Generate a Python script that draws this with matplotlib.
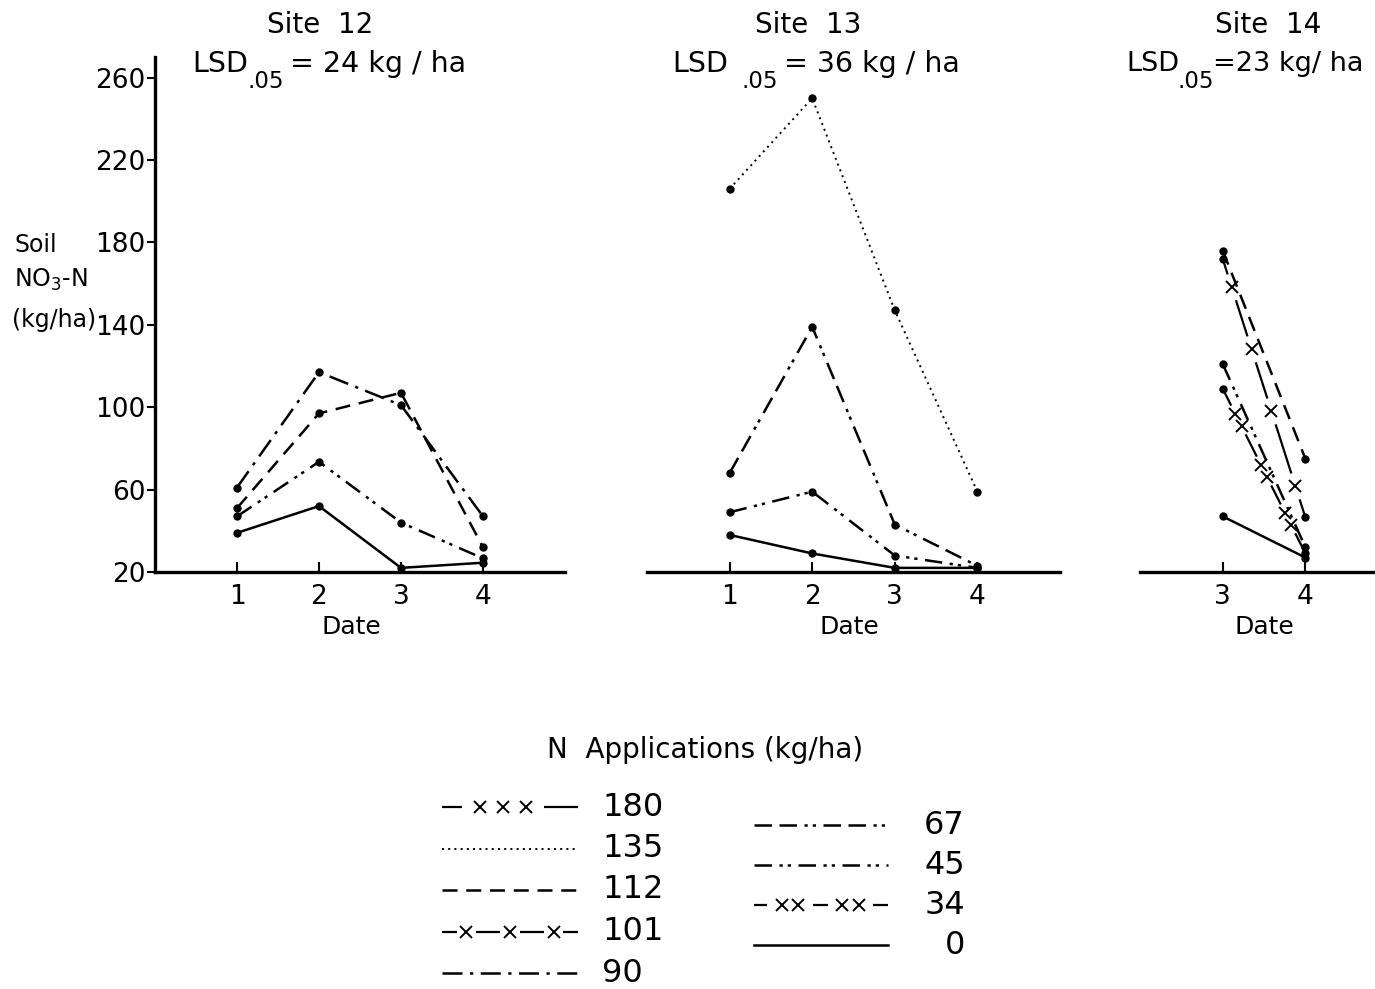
import numpy as np
import matplotlib as mpl
mpl.use('Agg')
import matplotlib.pyplot as plt
from matplotlib.transforms import blended_transform_factory

mpl.rc('font', family='DejaVu Sans', size=19)
mpl.rc('mathtext', default='regular')

# values (soil NO3-N, kg/ha)
dates_all = [1, 2, 3, 4]
dates_late = [3, 4]

site12_rates = ['112', '90', '45', '0']
site12_no3 = [[51, 97, 107, 32],
              [61, 117, 101, 47],
              [47, 73.5, 44, 26.6],
              [39, 52, 22, 24.5]]

site13_rates = ['135', '67', '45', '0']
site13_no3 = [[206, 250, 147, 59],
              [68, 139, 43, 23],
              [49, 59, 28, 22],
              [38, 29, 22, 22]]

site14_rates = ['112', '101', '45', '34', '0']
site14_no3 = [[176, 75],
              [172, 46.5],
              [121, 32],
              [109, 29],
              [47, 27]]

yticks = [20, 60, 100, 140, 180, 220, 260]
legend_left = ['180', '135', '112', '101', '90']
legend_right = ['67', '45', '34', '0']

W, H = 1375, 989

# line style per N rate; 'xg' = (group centres along a segment, x's per group)
STYLES = {
    '180': dict(ls='-', lw=1.6, xg=([0.5], 3)),
    '135': dict(ls=(0, (1, 2.2)), lw=1.4),
    '112': dict(ls=(0, (6, 3.5)), lw=1.8),
    '101': dict(ls='-', lw=1.6, xg=([0.11, 0.35, 0.59, 0.88], 1)),
    '90': dict(ls=(0, (8, 3, 1.3, 3)), lw=1.8),
    '67': dict(ls=(0, (7, 3, 7, 3, 1.3, 2, 1.3, 3)), lw=1.8),
    '45': dict(ls=(0, (7, 3, 1.3, 2, 1.3, 3)), lw=1.8),
    '34': dict(ls='-', lw=1.6, xg=([0.19, 0.5, 0.79], 2)),
    '0': dict(ls='-', lw=1.8),
}


def px(x, y):
    return x / W, 1 - y / H


def x_segment(ax, x0, y0, x1, y1, centres, n, step=0.075, gap=0.05, ms=9):
    # line broken by little x marks, like the hand drawn ones
    cuts = []
    marks = []
    for c in centres:
        offs = (np.arange(n) - (n - 1) / 2.0) * step
        marks.extend(c + offs)
        cuts.append((c + offs[0] - gap, c + offs[-1] + gap))
    start = 0.0
    for a, b in cuts:
        if a > start:
            ax.plot([x0 + (x1 - x0) * start, x0 + (x1 - x0) * a],
                    [y0 + (y1 - y0) * start, y0 + (y1 - y0) * a], color='k', lw=1.6,
                    solid_capstyle='butt')
        start = b
    if start < 1:
        ax.plot([x0 + (x1 - x0) * start, x1], [y0 + (y1 - y0) * start, y1],
                color='k', lw=1.6, solid_capstyle='butt')
    marks = np.array(marks)
    ax.plot(x0 + (x1 - x0) * marks, y0 + (y1 - y0) * marks, ls='none',
            marker='x', color='k', ms=ms, mew=1.4)


def draw_series(ax, xs, ys, rate):
    st = STYLES[rate]
    if 'xg' in st:
        centres, n = st['xg']
        for i in range(len(xs) - 1):
            x_segment(ax, xs[i], ys[i], xs[i + 1], ys[i + 1], centres, n)
    else:
        ax.plot(xs, ys, color='k', ls=st['ls'], lw=st['lw'])
    ax.plot(xs, ys, ls='none', marker='o', ms=5, color='k')


def setup_axes(rect, xlim, xticks, yaxis):
    ax = fig.add_axes(rect)
    ax.set_xlim(*xlim)
    ax.set_ylim(20, 270)
    for s in ['top', 'right']:
        ax.spines[s].set_visible(False)
    ax.spines['bottom'].set_linewidth(2.4)
    ax.spines['left'].set_linewidth(2.4)
    ax.set_xticks(xticks)
    ax.tick_params(axis='x', direction='in', length=7, width=1.5, pad=9, labelsize=19)
    if yaxis:
        ax.set_yticks(yticks)
        ax.tick_params(axis='y', direction='out', length=6, width=1.5, pad=1, labelsize=19)
    else:
        ax.spines['left'].set_visible(False)
        ax.set_yticks([])
    ax.patch.set_alpha(0)
    return ax


fig = plt.figure(figsize=(W / 100, H / 100), dpi=100)

axh = 515 / H
ax12 = setup_axes([155 / W, 1 - 572 / H, 410 / W, axh], (0, 5), dates_all, True)
ax13 = setup_axes([647 / W, 1 - 572 / H, 413 / W, axh], (0, 5), dates_all, False)
ax14 = setup_axes([1140 / W, 1 - 572 / H, 235 / W, axh], (2, 2 + 235 / 82.7), dates_late, False)

for rate, vals in zip(site12_rates, site12_no3):
    draw_series(ax12, dates_all, vals, rate)
for rate, vals in zip(site13_rates, site13_no3):
    draw_series(ax13, dates_all, vals, rate)
for rate, vals in zip(site14_rates, site14_no3):
    draw_series(ax14, dates_late, vals, rate)

for ax, xd in [(ax12, 2.4), (ax13, 2.45), (ax14, 3.5)]:
    tr = blended_transform_factory(ax.transData, fig.transFigure)
    ax.text(xd, 1 - 627 / H, 'Date', transform=tr, ha='center', va='center', fontsize=18)

# titles
for cx, name in [(320, 'Site  12'), (808, 'Site  13'), (1268, 'Site  14')]:
    fig.text(*px(cx, 25), name, ha='center', va='center', fontsize=20)

# LSD lines: (x of LSD, x of subscript, x of rest, rest text, size)
lsd_rows = [(192, 247, 290, '= 24 kg / ha', 20.5, 20.5),
            (672, 741, 784, '= 36 kg / ha', 20.5, 20.5),
            (1126, 1178, 1213, '=23 kg/ ha', 19.5, 19.5)]
for xl, xs_, xr, rest, fs_a, fs_b in lsd_rows:
    fig.text(*px(xl, 64), 'LSD', ha='left', va='center', fontsize=fs_a)
    fig.text(*px(xs_, 81), '.05', ha='left', va='center', fontsize=16.5)
    fig.text(*px(xr, 64), rest, ha='left', va='center', fontsize=fs_b)

# y label
fig.text(*px(14, 245), 'Soil', ha='left', va='center', fontsize=17)
fig.text(*px(14, 280), 'NO$_3$-N', ha='left', va='center', fontsize=17)
fig.text(*px(12, 320), '(kg/ha)', ha='left', va='center', fontsize=17)

# legend, drawn in pixel space
lg = fig.add_axes([0, 0, 1, 1])
lg.set_xlim(0, W)
lg.set_ylim(H, 0)
lg.axis('off')
lg.text(705, 750, 'N  Applications (kg/ha)', ha='center', va='center', fontsize=20)


def legend_row(rate, x0, x1, y, tx, ha='left'):
    st = STYLES[rate]
    if 'xg' in st:
        if rate == '180':
            x_segment(lg, x0, y, x1, y, [0.45], 3, step=0.17, gap=0.13, ms=9)
        elif rate == '101':
            x_segment(lg, x0, y, x1, y, [0.18, 0.5, 0.82], 1, gap=0.07, ms=9)
        else:
            x_segment(lg, x0, y, x1, y, [0.27, 0.72], 2, step=0.12, gap=0.11, ms=9)
    else:
        lg.plot([x0, x1], [y, y], color='k', ls=st['ls'], lw=st['lw'])
    lg.text(tx, y, rate, ha=ha, va='center', fontsize=23)


for i, r in enumerate(legend_left):
    legend_row(r, 442, 578, 807 + i * 41.5, 602)
for i, r in enumerate(legend_right):
    legend_row(r, 754, 888, 825 + i * 40, 965, ha='right')

fig.savefig('out.png', dpi=100)
